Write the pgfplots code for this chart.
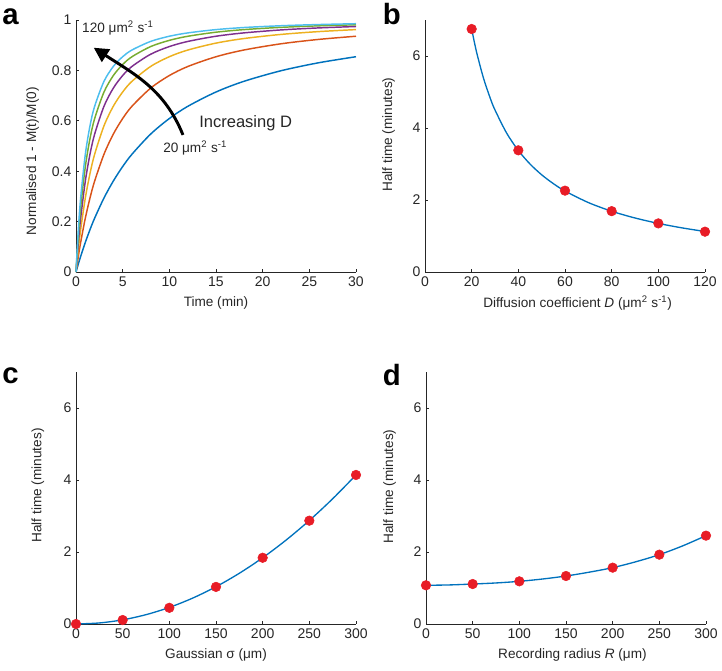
\documentclass[border=0pt]{standalone}
\usepackage{fontspec}
\setmainfont{Liberation Sans}
\usepackage{pgfplots}
\pgfplotsset{compat=1.18}
\usetikzlibrary{arrows.meta}
\definecolor{m1}{rgb}{0,0.447,0.741}
\definecolor{m2}{rgb}{0.850,0.325,0.098}
\definecolor{m3}{rgb}{0.929,0.694,0.125}
\definecolor{m4}{rgb}{0.494,0.184,0.556}
\definecolor{m5}{rgb}{0.466,0.674,0.188}
\definecolor{m6}{rgb}{0.301,0.745,0.933}
\definecolor{axgray}{rgb}{0.15,0.15,0.15}
\definecolor{mred}{RGB}{232,28,38}
\pgfplotsset{
  panel/.style={
    scale only axis, width=210pt, height=189pt,
    anchor=north west,
    axis x line*=bottom, axis y line*=left,
    axis line style={axgray, line width=0.6pt, -},
    tick align=inside, major tick length=2.5pt,
    every tick/.style={axgray, line width=0.6pt},
    tick label style={font=\fontsize{10.5}{12}\selectfont, text=axgray},
    /pgf/number format/assume math mode=true,
    every axis x label/.style={at={(axis description cs:0.5,0)}, anchor=center, yshift=-23.5pt, font=\fontsize{10.2}{12}\selectfont, text=axgray},
    every axis y label/.style={at={(axis description cs:-0.13,0.545)}, anchor=center, rotate=90, font=\fontsize{10.2}{12}\selectfont, text=axgray},
    clip=false,
  },
  curve/.style={line width=1.1pt, smooth},
  dots/.style={only marks, mark=*, mark size=3.6pt, mark options={fill=mred, draw=mred}},
  fitline/.style={m1, line width=1.0pt, smooth},
}
\newcommand{\um}{μm}
\begin{document}
\begin{tikzpicture}
\useasboundingbox (0,0) rectangle (541.5pt,-503.25pt);
% ---------------- panel a ----------------
\begin{axis}[panel, at={(57pt,-15pt)},
  xmin=0, xmax=30, ymin=0, ymax=1,
  xtick={0,5,10,15,20,25,30}, ytick={0,0.2,0.4,0.6,0.8,1},
  yticklabels={0,0.2,0.4,0.6,0.8,1},
  xlabel={Time (min)}, ylabel={Normalised 1 - M(t)/M(0)},
  every axis y label/.style={at={(axis description cs:-0.155,0.44)}, anchor=center, rotate=90, font=\fontsize{10.2}{12}\selectfont, text=axgray}]
\addplot[curve, m1] coordinates {(0,0) (0.25,0.0318) (0.5,0.0619) (1,0.1177) (1.5,0.1681) (2,0.2139) (3,0.2939) (4,0.3611) (5,0.4184) (6,0.4675) (8,0.5474) (10,0.6090) (12,0.6579) (15,0.7143) (18,0.7568) (22,0.7990) (26,0.8303) (30,0.8543)};
\addplot[curve, m2] coordinates {(0,0) (0.25,0.0619) (0.5,0.1176) (1,0.2139) (1.5,0.2938) (2,0.3611) (3,0.4675) (4,0.5473) (5,0.6090) (6,0.6579) (8,0.7297) (10,0.7796) (12,0.8158) (15,0.8542) (18,0.8810) (22,0.9058) (26,0.9230) (30,0.9356)};
\addplot[curve, m3] coordinates {(0,0) (0.25,0.0905) (0.5,0.1681) (1,0.2939) (1.5,0.3909) (2,0.4675) (3,0.5801) (4,0.6579) (5,0.7143) (6,0.7568) (8,0.8158) (10,0.8543) (12,0.8810) (15,0.9083) (18,0.9265) (22,0.9429) (26,0.9540) (30,0.9619)};
\addplot[curve, m4] coordinates {(0,0) (0.25,0.1176) (0.5,0.2139) (1,0.3611) (1.5,0.4675) (2,0.5473) (3,0.6579) (4,0.7297) (5,0.7796) (6,0.8158) (8,0.8642) (10,0.8946) (12,0.9151) (15,0.9356) (18,0.9489) (22,0.9607) (26,0.9686) (30,0.9742)};
\addplot[curve, m5] coordinates {(0,0) (0.25,0.1435) (0.5,0.2557) (1,0.4184) (1.5,0.5294) (2,0.6090) (3,0.7143) (4,0.7796) (5,0.8233) (6,0.8543) (8,0.8946) (10,0.9192) (12,0.9356) (15,0.9516) (18,0.9619) (22,0.9709) (26,0.9769) (30,0.9810)};
\addplot[curve, m6] coordinates {(0,0) (0.25,0.1681) (0.5,0.2939) (1,0.4675) (1.5,0.5801) (2,0.6579) (3,0.7568) (4,0.8158) (5,0.8543) (6,0.8810) (8,0.9151) (10,0.9356) (12,0.9489) (15,0.9619) (18,0.9702) (22,0.9773) (26,0.9820) (30,0.9853)};
\draw[black, line width=2.2pt, -{Triangle[length=11pt, width=11pt]}] (axis cs:11.46,0.544) to[out=112, in=-33] (axis cs:1.9,0.89);
\node[anchor=west, inner sep=0pt, font=\fontsize{10.2}{12}\selectfont, text=axgray] at (axis cs:0.64,0.968) {120 \um\textsuperscript{2} s\textsuperscript{-1}};
\node[anchor=west, inner sep=0pt, font=\fontsize{12.4}{14}\selectfont, text=axgray] at (axis cs:13.18,0.591) {Increasing D};
\node[anchor=west, inner sep=0pt, font=\fontsize{10.2}{12}\selectfont, text=axgray] at (axis cs:9.32,0.492) {20 \um\textsuperscript{2} s\textsuperscript{-1}};
\end{axis}
% ---------------- panel b ----------------
\begin{axis}[panel, at={(318.75pt,-15pt)},
  xmin=0, xmax=120, ymin=0, ymax=7,
  xtick={0,20,40,60,80,100,120}, ytick={0,2,4,6},
  xlabel={Diffusion coefficient \textit{D} (\um\textsuperscript{2} s\textsuperscript{-1})}, ylabel={Half time (minutes)},
  every axis x label/.append style={at={(axis description cs:0.545,0)}}]
\addplot[fitline] coordinates {(20,6.75) (22,6.136) (25,5.4) (28,4.821) (30,4.5) (35,3.857) (40,3.375) (45,3.0) (50,2.7) (55,2.455) (60,2.25) (70,1.929) (80,1.6875) (90,1.5) (100,1.35) (110,1.227) (120,1.125)};
\addplot[dots] coordinates {(20,6.75) (40,3.38) (60,2.26) (80,1.69) (100,1.35) (120,1.12)};
\end{axis}
% ---------------- panel c ----------------
\begin{axis}[panel, at={(57pt,-279pt)},
  xmin=0, xmax=300, ymin=0, ymax=7,
  xtick={0,50,100,150,200,250,300}, ytick={0,2,4,6},
  xlabel={Gaussian σ (\um)}, ylabel={Half time (minutes)},
  every axis y label/.append style={at={(axis description cs:-0.136,0.55)}}]
\addplot[fitline] coordinates {(0,0) (25,0.0288) (50,0.115) (75,0.259) (100,0.46) (125,0.719) (150,1.035) (175,1.409) (200,1.84) (225,2.329) (250,2.875) (275,3.479) (300,4.14)};
\addplot[dots] coordinates {(0,0) (50,0.11) (100,0.45) (150,1.03) (200,1.84) (250,2.87) (300,4.14)};
\end{axis}
% ---------------- panel d ----------------
\begin{axis}[panel, at={(319.5pt,-279pt)},
  xmin=0, xmax=300, ymin=0, ymax=7,
  xtick={0,50,100,150,200,250,300}, ytick={0,2,4,6},
  xlabel={Recording radius \textit{R} (\um)}, ylabel={Half time (minutes)},
  every axis x label/.append style={at={(axis description cs:0.523,0)}}]
\addplot[fitline] coordinates {(0,1.075) (25,1.085) (50,1.11) (75,1.14) (100,1.185) (125,1.25) (150,1.333) (175,1.44) (200,1.565) (225,1.73) (250,1.926) (275,2.17) (300,2.454)};
\addplot[dots] coordinates {(0,1.075) (50,1.11) (100,1.185) (150,1.333) (200,1.565) (250,1.926) (300,2.454)};
\end{axis}
% panel letters
\node[anchor=base west, inner sep=0pt, font=\fontsize{22}{24}\selectfont\bfseries] at (1.5pt,-18.75pt) {a};
\node[anchor=base west, inner sep=0pt, font=\fontsize{22}{24}\selectfont\bfseries] at (287pt,-18.75pt) {b};
\node[anchor=base west, inner sep=0pt, font=\fontsize{22}{24}\selectfont\bfseries] at (1.5pt,-287.25pt) {c};
\node[anchor=base west, inner sep=0pt, font=\fontsize{22}{24}\selectfont\bfseries] at (287pt,-288.75pt) {d};
\end{tikzpicture}
\end{document}
